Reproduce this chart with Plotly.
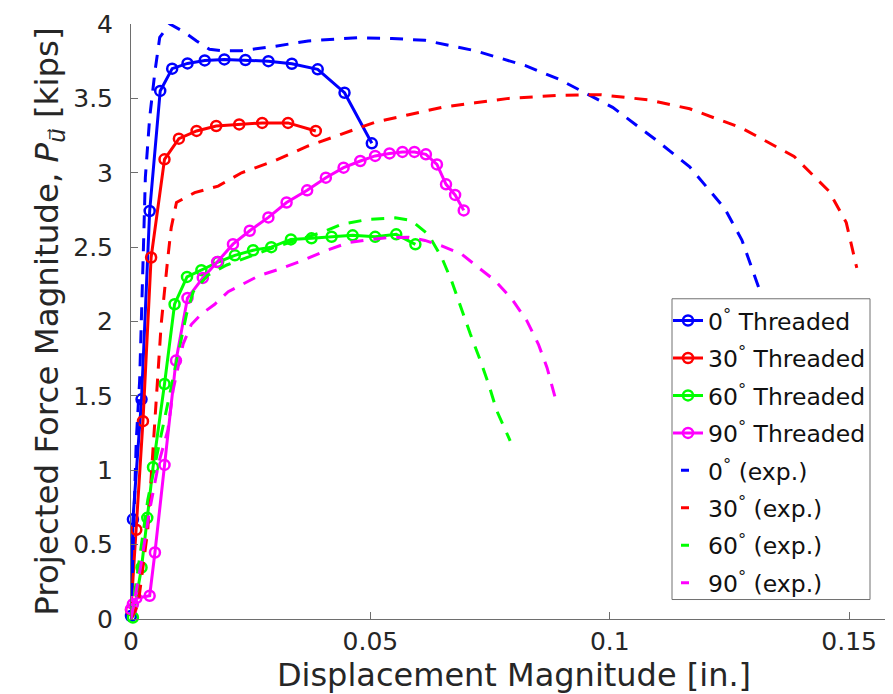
import plotly.graph_objects as go

# ---------------- data ----------------
thr0_x = [0.0, 0.0004, 0.0022, 0.0039, 0.0061, 0.0086, 0.0118, 0.0154, 0.0195, 0.0239, 0.0287, 0.0336, 0.039, 0.0446, 0.0503]
thr0_y = [0.02, 0.67, 1.477, 2.743, 3.55, 3.70, 3.735, 3.755, 3.762, 3.758, 3.75, 3.733, 3.695, 3.538, 3.198]

thr30_x = [0.0, 0.0011, 0.0025, 0.0042, 0.007, 0.010, 0.0137, 0.0178, 0.0226, 0.0274, 0.0328, 0.0386]
thr30_y = [0.06, 0.60, 1.33, 2.43, 3.09, 3.229, 3.281, 3.314, 3.325, 3.335, 3.335, 3.281]

thr60_x = [0.0004, 0.0022, 0.0034, 0.0046, 0.007, 0.0091, 0.0117, 0.0147, 0.0182, 0.0217, 0.0255, 0.0293,
           0.0334, 0.0377, 0.0419, 0.0463, 0.051, 0.0554, 0.0594]
thr60_y = [0.01, 0.346, 0.68, 1.02, 1.58, 2.116, 2.30, 2.345, 2.40, 2.445, 2.479, 2.50,
           2.552, 2.559, 2.57, 2.579, 2.569, 2.586, 2.519]

thr90_x = [0.0, 0.0004, 0.0011, 0.0039, 0.005, 0.007, 0.0094, 0.0118, 0.015, 0.018, 0.0213, 0.0248, 0.0287,
           0.0325, 0.0368, 0.0407, 0.0444, 0.0479, 0.051, 0.054, 0.0567, 0.0592, 0.0616, 0.0639, 0.0658,
           0.0677, 0.0695]
thr90_y = [0.066, 0.10, 0.14, 0.156, 0.447, 1.036, 1.737, 2.158, 2.293, 2.40, 2.52, 2.61, 2.70,
           2.80, 2.882, 2.967, 3.034, 3.079, 3.113, 3.13, 3.14, 3.14, 3.124, 3.056, 2.922,
           2.851, 2.747]

exp0_x = [0.0, 0.0004, 0.0011, 0.0018, 0.0022, 0.0026, 0.003, 0.0039, 0.005, 0.006, 0.0081, 0.0109, 0.0137,
          0.0164, 0.0192, 0.023, 0.030, 0.037, 0.0475, 0.0545, 0.0614, 0.0719, 0.0824, 0.0893, 0.1006,
          0.1094, 0.1167, 0.124, 0.1276, 0.1312]
exp0_y = [0.0, 0.4, 1.2, 1.6, 2.0, 2.5, 2.97, 3.37, 3.68, 3.91, 4.0, 3.95, 3.886,
          3.83, 3.82, 3.82, 3.85, 3.886, 3.908, 3.903, 3.89, 3.82, 3.72, 3.63, 3.44,
          3.227, 3.04, 2.76, 2.548, 2.22]

exp30_x = [0.0, 0.0015, 0.0035, 0.0046, 0.005, 0.0056, 0.0063, 0.0077, 0.0084, 0.0095, 0.0133, 0.0182,
           0.0231, 0.030, 0.037, 0.044, 0.051, 0.058, 0.065, 0.0719, 0.0789, 0.0893, 0.098, 0.108,
           0.1167, 0.1276, 0.1385, 0.1458, 0.1494, 0.1516]
exp30_y = [0.0, 0.1, 0.6, 1.13, 1.31, 1.645, 1.98, 2.43, 2.63, 2.80, 2.866, 2.91,
           3.0, 3.08, 3.18, 3.26, 3.34, 3.39, 3.44, 3.47, 3.50, 3.52, 3.525, 3.49,
           3.43, 3.30, 3.11, 2.876, 2.665, 2.36]

exp60_x = [0.0, 0.002, 0.0035, 0.0056, 0.0077, 0.0098, 0.0116, 0.013, 0.016, 0.020, 0.025, 0.030, 0.035,
           0.040, 0.044, 0.0496, 0.0552, 0.0585, 0.0621, 0.0649, 0.067, 0.0691, 0.0709, 0.073, 0.0747,
           0.0764, 0.0792]
exp60_y = [0.0, 0.45, 0.8, 1.13, 1.444, 1.757, 2.05, 2.2, 2.31, 2.38, 2.44, 2.5, 2.55,
           2.6, 2.653, 2.687, 2.697, 2.68, 2.586, 2.43, 2.27, 2.07, 1.914, 1.735, 1.578,
           1.40, 1.198]

exp90_x = [0.0, 0.002, 0.004, 0.0058, 0.0077, 0.0088, 0.0109, 0.0126, 0.0147, 0.0175, 0.0203, 0.0266,
           0.0308, 0.0356, 0.0405, 0.0454, 0.0496, 0.0538, 0.058, 0.0614, 0.0649, 0.0691, 0.0726,
           0.0761, 0.0796, 0.0827, 0.0851, 0.0869, 0.0886]
exp90_y = [0.0, 0.35, 0.75, 1.05, 1.27, 1.54, 1.85, 1.98, 2.05, 2.116, 2.2, 2.306,
           2.35, 2.407, 2.474, 2.53, 2.55, 2.564, 2.566, 2.545, 2.508, 2.452, 2.362,
           2.273, 2.149, 2.004, 1.847, 1.69, 1.489]

x_tickvals = [0, 0.05, 0.1, 0.15]
x_ticktext = ["0", "0.05", "0.1", "0.15"]
y_tickvals = [0, 0.5, 1, 1.5, 2, 2.5, 3, 3.5, 4]
y_ticktext = ["0", "0.5", "1", "1.5", "2", "2.5", "3", "3.5", "4"]

angles = ["0", "30", "60", "90"]
colors = ["#0000FF", "#FF0000", "#00FF00", "#FF00FF"]
thr_series = [(thr0_x, thr0_y), (thr30_x, thr30_y), (thr60_x, thr60_y), (thr90_x, thr90_y)]
exp_series = [(exp0_x, exp0_y), (exp30_x, exp30_y), (exp60_x, exp60_y), (exp90_x, exp90_y)]

FONT = "DejaVu Sans"
fig = go.Figure()

for i, (ang, col, (xs, ys)) in enumerate(zip(angles, colors, thr_series)):
    fig.add_trace(go.Scatter(
        x=xs, y=ys, mode="lines+markers",
        name=f"{ang}<sup>°</sup> Threaded",
        legendgroup=f"t{i}", legendrank=i + 1,
        line=dict(color=col, width=3),
        marker=dict(symbol="circle-open", size=10, color=col, line=dict(width=2.5, color=col)),
        cliponaxis=False,
    ))

for i, (ang, col, (xs, ys)) in enumerate(zip(angles, colors, exp_series)):
    fig.add_trace(go.Scatter(
        x=xs, y=ys, mode="lines", showlegend=False,
        line=dict(color=col, width=3, dash="13px,10px"),
    ))
    # legend-only entry showing a single short dash
    fig.add_trace(go.Scatter(
        x=[None], y=[None], mode="lines",
        name=f"{ang}<sup>°</sup> (exp.)",
        legendgroup=f"e{i}", legendrank=i + 5,
        line=dict(color=col, width=3, dash="0px,8px,8px,200px"),
    ))

axis_col = "#6e6e6e"
PL, PT, PW, PH = 123, 16, 766, 595.5


def px_x(p):
    return (p - PL) / PW


def px_y(p):
    return 1 - (p - PT) / PH


fig.update_layout(
    width=893, height=694,
    margin=dict(l=123, r=4, t=16, b=82.5, autoexpand=False),
    paper_bgcolor="white", plot_bgcolor="white",
    font=dict(family=FONT, color="#262626", size=25),
    showlegend=True,
    legend=dict(
        x=px_x(660), y=px_y(291), xanchor="left", yanchor="top",
        bgcolor="rgba(255,255,255,0)", borderwidth=0,
        font=dict(family=FONT, size=23.5, color="#111111"),
        tracegroupgap=3.9, itemwidth=30,
    ),
    shapes=[dict(
        type="rect", xref="paper", yref="paper",
        x0=px_x(664), x1=px_x(862), y0=px_y(592), y1=px_y(291),
        line=dict(color="#707070", width=1), fillcolor="white", layer="below",
    )],
    xaxis=dict(
        range=[0, 0.16], tickvals=x_tickvals, ticktext=x_ticktext, automargin=False,
        showline=True, linecolor=axis_col, linewidth=1, mirror=False,
        ticks="inside", ticklen=7, tickcolor=axis_col, tickwidth=1,
        showgrid=False, zeroline=False, ticklabelstandoff=0,
        tickfont=dict(size=25, family=FONT, color="#262626"),
        title=dict(text="Displacement Magnitude [in.]", font=dict(size=32, family=FONT, color="#262626"), standoff=0),
    ),
    yaxis=dict(
        range=[0, 4], tickvals=y_tickvals, ticktext=y_ticktext, automargin=False,
        showline=True, linecolor=axis_col, linewidth=1, mirror=False,
        ticks="inside", ticklen=7, tickcolor=axis_col, tickwidth=1,
        showgrid=False, zeroline=False, ticklabelstandoff=12,
        tickfont=dict(size=25, family=FONT, color="#262626"),
        title=dict(text="Projected Force Magnitude, <i>P</i><sub><i>u⃗</i></sub> [kips]",
                   font=dict(size=32.5, family=FONT, color="#262626"), standoff=4),
    ),
)

fig.write_html("out.html")
